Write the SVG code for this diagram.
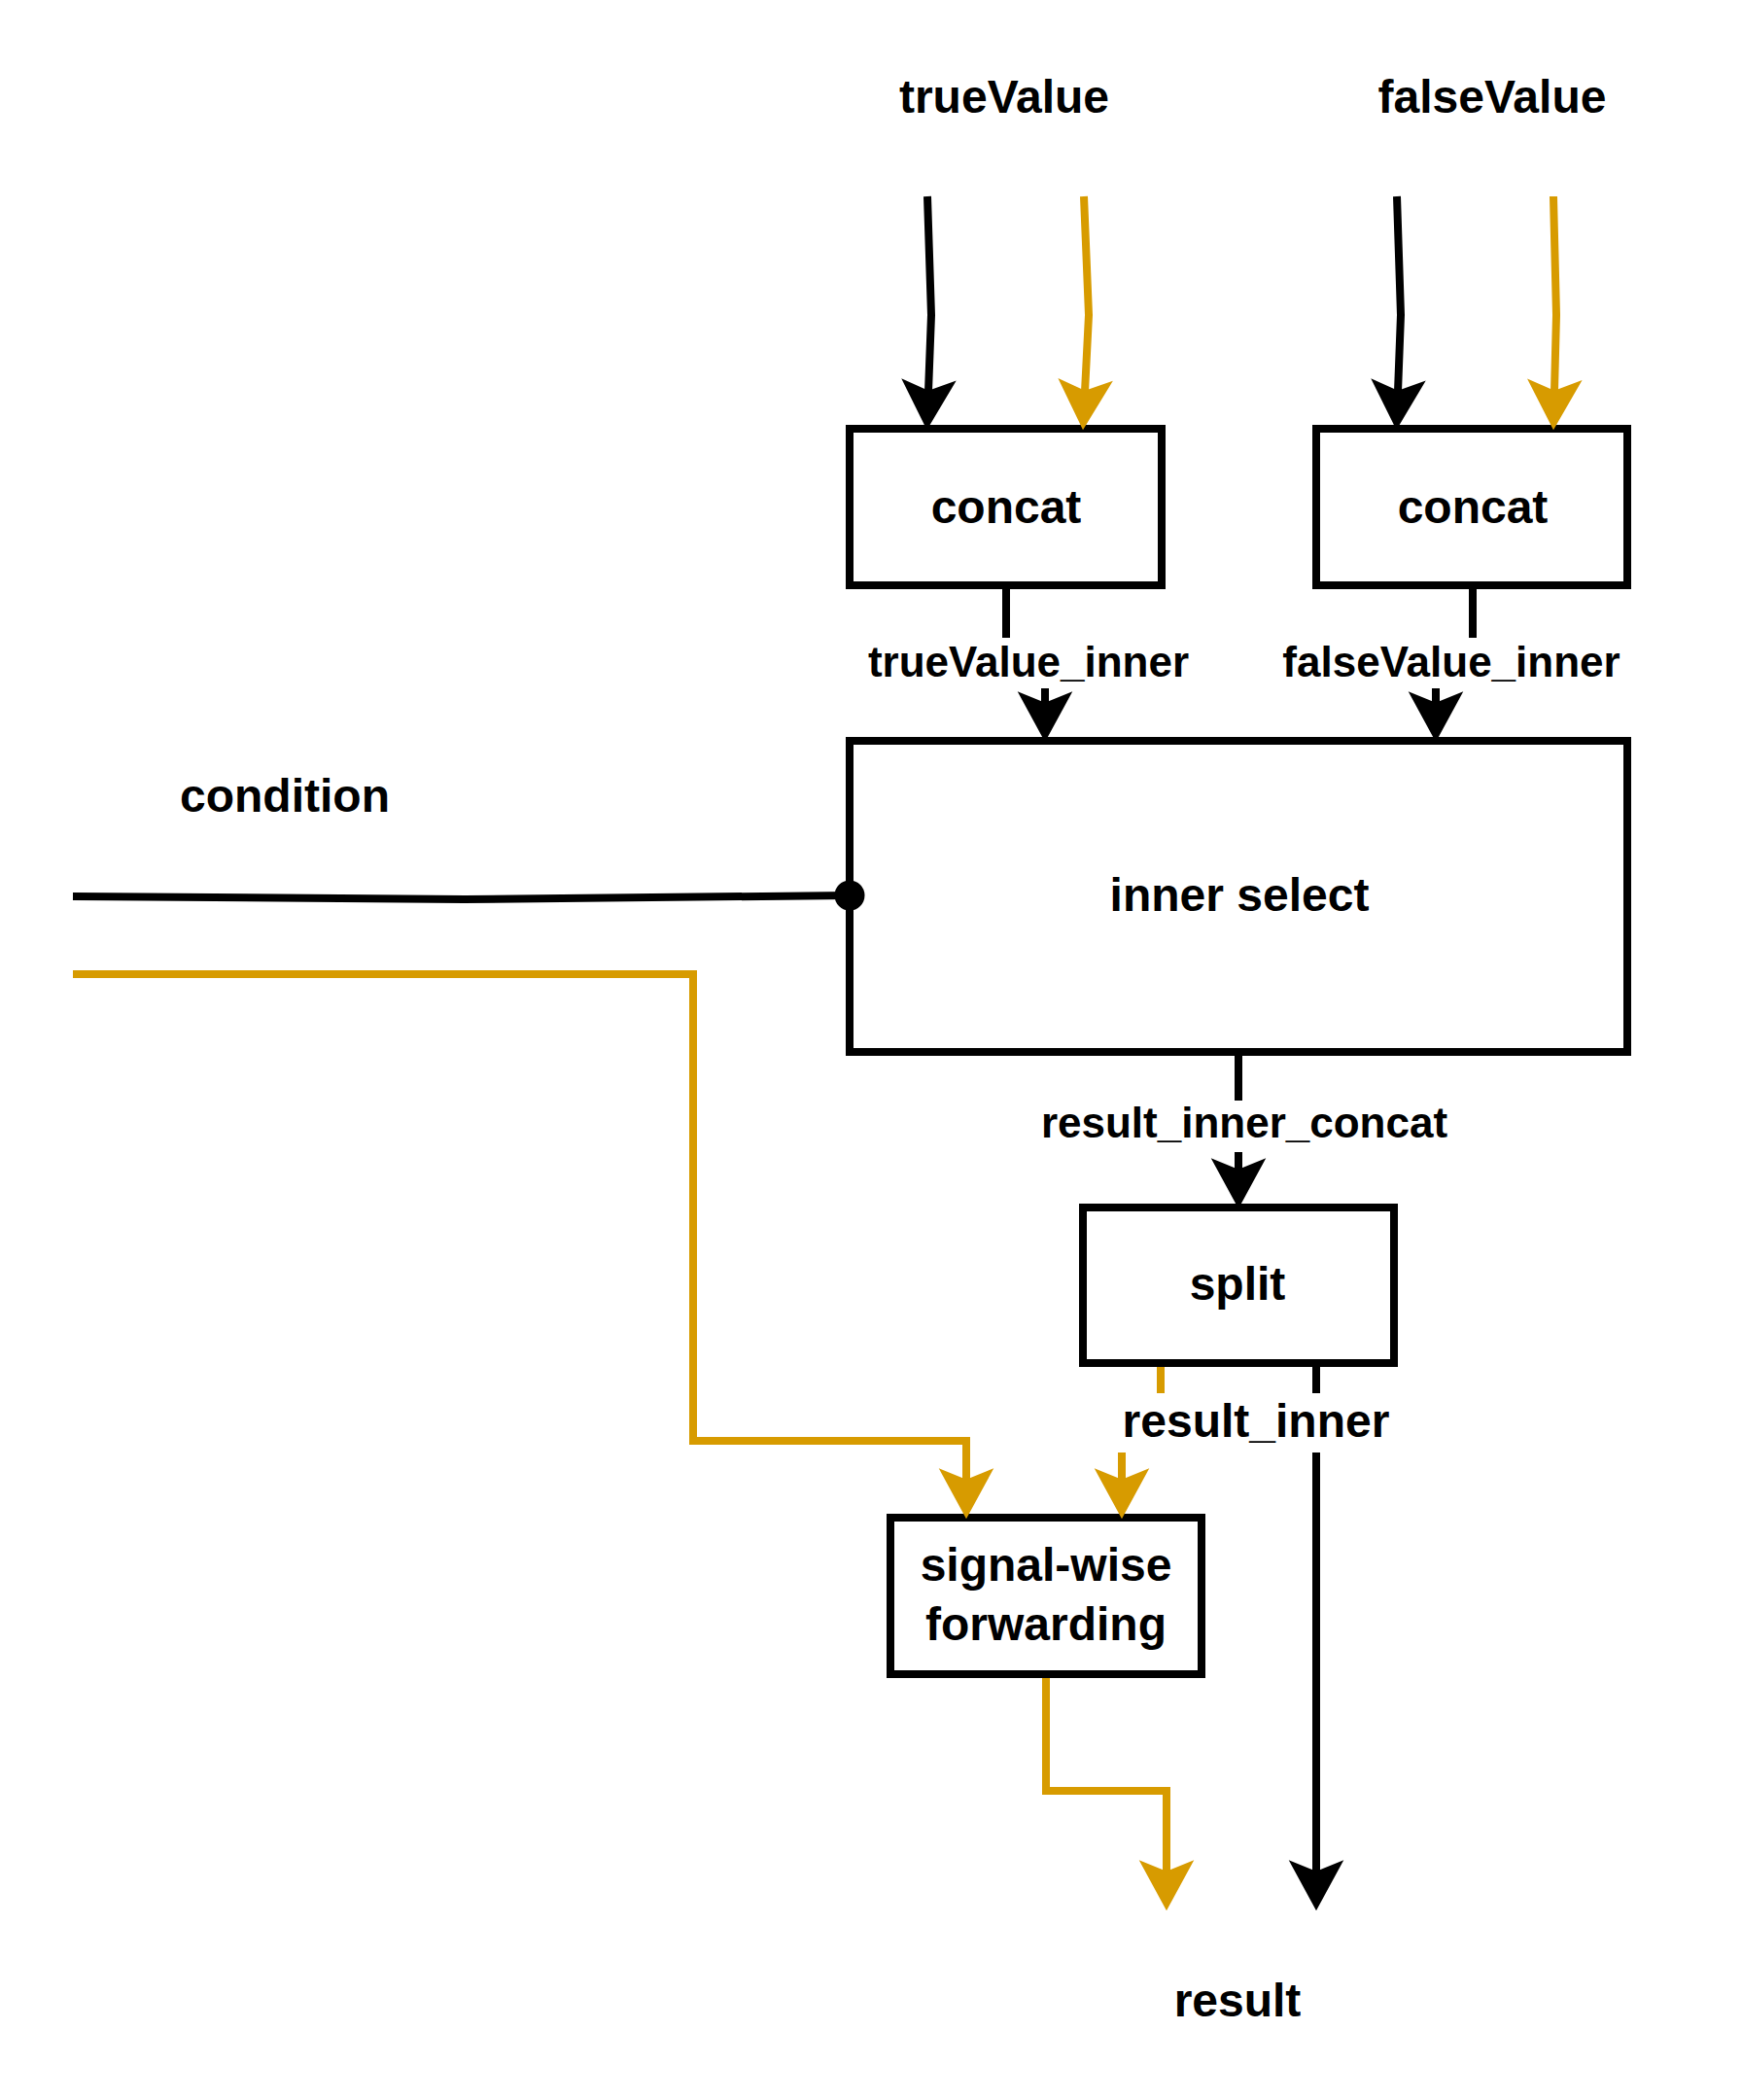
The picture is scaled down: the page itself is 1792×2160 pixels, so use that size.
<svg xmlns="http://www.w3.org/2000/svg" width="1792" height="2160" viewBox="0 0 1792 2160">
<style>
.box{fill:#fff;stroke:#000;stroke-width:8}
.t{font-family:"Liberation Sans",Arial,sans-serif;font-weight:bold;font-size:48px;text-anchor:middle;fill:#000}
.s{font-size:44px}
.k{fill:none;stroke:#000;stroke-width:8}
.o{fill:none;stroke:#d79b00;stroke-width:8}
</style>
<defs>
<marker id="ak" markerUnits="userSpaceOnUse" markerWidth="60" markerHeight="60" viewBox="-16 -26 52 52" refX="0" refY="0" orient="auto" overflow="visible">
<path d="M34,0 L-11,-24.5 L-1,0 L-11,24.5 Z" fill="#000"/>
</marker>
<marker id="ao" markerUnits="userSpaceOnUse" markerWidth="60" markerHeight="60" viewBox="-16 -26 52 52" refX="0" refY="0" orient="auto" overflow="visible">
<path d="M34,0 L-11,-24.5 L-1,0 L-11,24.5 Z" fill="#d79b00"/>
</marker>
</defs>
<rect width="1792" height="2160" fill="#fff"/>
<g id="label-trueValue"><text class="t" x="1033" y="116">trueValue</text></g>
<g id="label-falseValue"><text class="t" x="1535" y="116">falseValue</text></g>
<g id="label-condition"><text class="t" x="293" y="835">condition</text></g>
<g id="label-result"><text class="t" x="1273" y="2074">result</text></g>
<g id="concat-true"><rect class="box" x="874" y="441" width="321" height="161"/><text class="t" x="1035" y="538">concat</text></g>
<g id="concat-false"><rect class="box" x="1354" y="441" width="320" height="161"/><text class="t" x="1515" y="538">concat</text></g>
<g id="inner-select"><rect class="box" x="874" y="762" width="800" height="320"/><text class="t" x="1275" y="937">inner select</text></g>
<g id="split"><rect class="box" x="1114" y="1242" width="320" height="160"/><text class="t" x="1273" y="1337">split</text></g>
<g id="signal-wise-forwarding"><rect class="box" x="916" y="1561" width="320" height="161"/><text class="t" x="1076" y="1626">signal-wise</text><text class="t" x="1076" y="1687">forwarding</text></g>
<g id="connectors">
<path class="k" d="M954 202 L958 324 L955 403" marker-end="url(#ak)"/>
<path class="o" d="M1115 202 L1120 324 L1116 403" marker-end="url(#ao)"/>
<path class="k" d="M1437 202 L1441 324 L1438 403" marker-end="url(#ak)"/>
<path class="o" d="M1598 202 L1601 324 L1599 403" marker-end="url(#ao)"/>
<path class="k" d="M1035 606 V656 M1075 708 V724" marker-end="url(#ak)"/>
<path class="k" d="M1515 606 V656 M1477 708 V724" marker-end="url(#ak)"/>
<path class="k" d="M1274 1086 V1132 M1274 1185 V1204" marker-end="url(#ak)"/>
<path class="o" d="M1194 1406 V1433 M1154 1494 V1523" marker-end="url(#ao)"/>
<path class="o" d="M75 1002 H713 V1482 H994 V1523" marker-end="url(#ao)"/>
<path class="k" d="M1354 1406 V1433 M1354 1494 V1926" marker-end="url(#ak)"/>
<path class="o" d="M1076 1726 V1842 H1200 V1926" marker-end="url(#ao)"/>
<path class="k" d="M75 922 L478 925 L874 921"/>
<circle cx="874" cy="921" r="15.5" fill="#000"/>
<text class="t s" x="1058" y="696">trueValue_inner</text>
<text class="t s" x="1493" y="696">falseValue_inner</text>
<text class="t s" x="1280" y="1170">result_inner_concat</text>
<text class="t" x="1292" y="1478">result_inner</text>
</g>
</svg>
